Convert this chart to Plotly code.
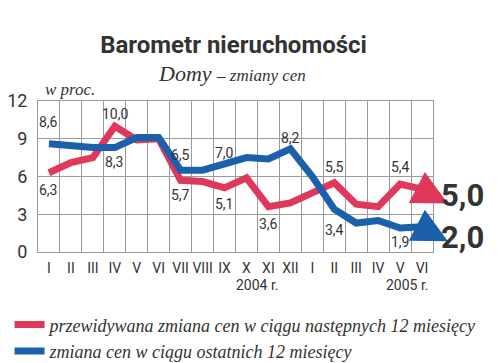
import plotly.graph_objects as go

# ---- data ----
months = ["I", "II", "III", "IV", "V", "VI", "VII", "VIII", "IX", "X", "XI", "XII",
          "I", "II", "III", "IV", "V", "VI"]
expected_change = [6.3, 7.1, 7.5, 10.0, 8.9, 9.0, 5.7, 5.6, 5.1, 5.9, 3.6, 3.9,
                   4.7, 5.5, 3.8, 3.6, 5.4, 5.0]
past_change = [8.6, 8.4, 8.3, 8.3, 9.1, 9.1, 6.5, 6.5, 7.0, 7.5, 7.4, 8.2,
               6.0, 3.4, 2.3, 2.5, 1.9, 2.0]
expected_labeled = [0, 3, 6, 8, 10, 13, 16]
past_labeled = [0, 3, 6, 8, 11, 13, 16]
y_ticks = [0, 3, 6, 9, 12]
year_labels = ["2004 r.", "2005 r."]
series_names = ["przewidywana zmiana cen w ciągu następnych 12 miesięcy",
                "zmiana cen w ciągu ostatnich 12 miesięcy"]

# ---- style ----
RED = "#e0385a"
BLUE = "#1a60aa"
TXT = "#333333"
GRID = "#9a9a9a"
expected_label_shift = [-17, 12, -15, -16, -17, 16, 17]
past_label_shift = [22, -14, 15, 11, 11, -21, -14]
year_label_x = [0.555, 0.935]

x = list(range(len(months)))


def fmt(v):
    return f"{v:.1f}".replace(".", ",")


fig = go.Figure()
fig.add_trace(go.Scatter(x=x, y=expected_change, mode="lines", name=series_names[0],
                         line=dict(color=RED, width=7), hoverinfo="skip"))
fig.add_trace(go.Scatter(x=x, y=past_change, mode="lines", name=series_names[1],
                         line=dict(color=BLUE, width=7), hoverinfo="skip"))

ann = []
for idxs, vals, shifts in [(expected_labeled, expected_change, expected_label_shift),
                           (past_labeled, past_change, past_label_shift)]:
    for i, s in zip(idxs, shifts):
        ann.append(dict(x=i, y=vals[i], xref="x", yref="y", text=fmt(vals[i]),
                        showarrow=False, yshift=s,
                        font=dict(family="Roboto", size=14, color=TXT)))

# arrows at the end of each series
last = len(months) - 1
for vals, col, tshift in [(expected_change, RED, -6), (past_change, BLUE, -11)]:
    ann.append(dict(x=last + 1.18, y=vals[last] - 1.15, xref="x", yref="y",
                    ax=last - 0.15, ay=vals[last] + 0.05, axref="x", ayref="y",
                    text="", showarrow=True, arrowhead=2, arrowsize=1.0,
                    arrowwidth=7, arrowcolor=col, standoff=0))
    ann.append(dict(x=last, y=vals[last], xref="x", yref="y",
                    text="<b>" + fmt(vals[last]) + "</b>",
                    showarrow=False, xanchor="left", xshift=17, yshift=tshift,
                    font=dict(family="Roboto", size=31, color=TXT)))

for t, px in zip(year_labels, year_label_x):
    ann.append(dict(x=px, y=-0.22, xref="paper", yref="paper", text=t,
                    showarrow=False, xanchor="center", yanchor="middle",
                    font=dict(family="Roboto", size=14, color=TXT)))

ann.append(dict(x=0.49, y=1.18, xref="paper", yref="paper",
                text="Domy <span style='font-size:17px'>– zmiany cen</span>",
                showarrow=False, xanchor="center", yanchor="middle",
                font=dict(family="Liberation Serif", size=22, color=TXT, style="italic")))
ann.append(dict(x=0.012, y=1.073, xref="paper", yref="paper", text="w proc.",
                showarrow=False, xanchor="left", yanchor="middle",
                font=dict(family="Liberation Serif", size=17, color=TXT, style="italic")))

fig.update_layout(
    width=499, height=363,
    margin=dict(l=30, r=74, t=93, b=119, autoexpand=False),
    paper_bgcolor="white", plot_bgcolor="white",
    title=dict(text="<b>Barometr nieruchomości</b>", x=0.452, xanchor="center",
               y=1 - 37 / 363, yanchor="middle",
               font=dict(family="Roboto", size=24, color=TXT)),
    showlegend=True,
    legend=dict(x=-0.072, y=-0.36, xanchor="left", yanchor="top",
                font=dict(family="Liberation Serif", size=18, color=TXT, style="italic"),
                tracegroupgap=0, itemwidth=30, bgcolor="rgba(0,0,0,0)"),
    annotations=ann,
    hovermode=False,
)
fig.update_xaxes(range=[-0.5, last + 0.5], tickvals=x, ticktext=months,
                 showgrid=False, zeroline=False, ticks="", ticklabelstandoff=3,
                 showline=True, mirror=True, linecolor=GRID, linewidth=1,
                 minor=dict(tick0=0.5, dtick=1, showgrid=True, gridcolor=GRID,
                            gridwidth=1, ticks=""),
                 tickfont=dict(family="Roboto", size=14, color=TXT))
fig.update_yaxes(range=[0, 12], tickvals=y_ticks, showgrid=True, gridcolor=GRID,
                 gridwidth=1, zeroline=False, ticks="", ticklabelstandoff=6,
                 showline=True, mirror=True, linecolor=GRID, linewidth=1,
                 tickfont=dict(family="Roboto", size=18, color=TXT))

fig.write_html("out.html")
